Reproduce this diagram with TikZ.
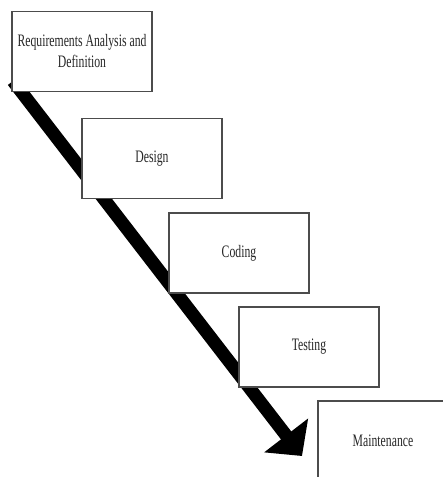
\documentclass[tikz,border=0pt]{standalone}
\usepackage{fontspec}
\setmainfont{Liberation Serif}[FakeStretch=0.67]
\usetikzlibrary{arrows.meta}
\begin{document}
\begin{tikzpicture}[x=1pt,y=-1pt,
  phase/.style={draw=black!70, line width=1.3pt, fill=white,
    minimum width=140pt, minimum height=80pt, inner sep=0pt,
    align=center, text=black!85,
    font=\fontsize{17.5}{21}\selectfont},
  flow/.style={line width=13pt, -{Triangle[length=26pt,width=54pt]}}]
\useasboundingbox (0,0) rectangle (443,477);
\clip (0,0) rectangle (443,477);
\coordinate (s) at (13,81);
\coordinate (e) at (302,456);
\draw[flow] (s) -- (e);
\node[phase] (req) at (82,51.5) {Requirements Analysis and\\Definition};
\node[phase] (des) at (152,158.5) {Design};
\node[phase] (cod) at (239,253) {Coding};
\node[phase] (tes) at (309,347) {Testing};
\node[phase, minimum width=130pt] (mai) at (383,441) {Maintenance};
\end{tikzpicture}
\end{document}
